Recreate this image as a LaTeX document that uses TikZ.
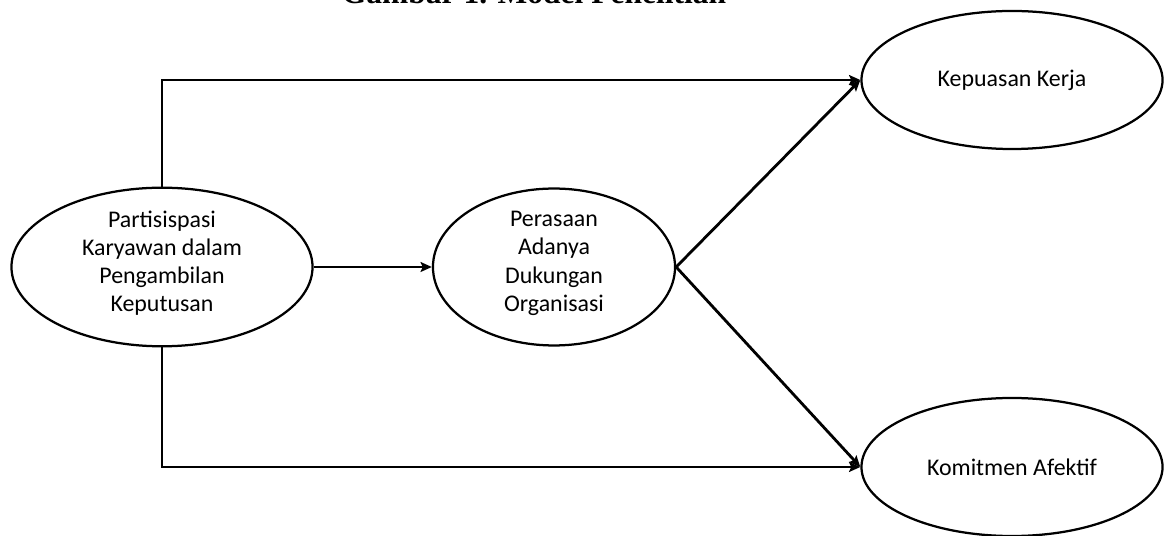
\documentclass[tikz,border=0pt]{standalone}
\usepackage{fontspec}
\setmainfont{Carlito}
\newfontfamily\titlefont{Liberation Serif}
\usepackage{tikz}
\usetikzlibrary{arrows.meta,shapes.geometric}
\tikzset{
  var/.style={draw, ellipse, line width=1.6pt, align=center, inner sep=0pt,
              minimum width=7.525cm, minimum height=3.45cm,
              font=\fontsize{17}{20}\selectfont},
  flow/.style={-{Stealth[length=8pt, width=7pt, inset=1.5pt]}, line width=2pt},
}

\begin{document}
\begin{tikzpicture}[x=0.025cm, y=-0.025cm]
  \useasboundingbox (0,0) rectangle (1168,536);
  \node[anchor=base, font=\titlefont\bfseries\fontsize{22.4}{26}\selectfont] (title)
    at (534,4) {Gambar 1. Model Penelitian};

  \node[var, minimum height=3.475cm, text depth=8pt] (part) at (162,267)
    {Partisispasi\\ Karyawan dalam\\ Pengambilan\\ Keputusan};
  \node[var, minimum width=6.05cm, minimum height=3.5cm, text depth=8pt] (duk) at (554,267)
    {Perasaan\\ Adanya\\ Dukungan\\ Organisasi};
  \node[var] (kep) at (1012,80) {Kepuasan Kerja};
  \node[var] (kom) at (1012,467) {Komitmen Afektif};

  \draw[flow] (part.north) |- (kep.west);
  \draw[flow] (part.south) |- (kom.west);
  \draw[flow] (part.east) -- (duk.west);
  \draw[flow] (duk.east) -- (kep.west);
  \draw[flow] (duk.east) -- (kom.west);
\end{tikzpicture}
\end{document}
